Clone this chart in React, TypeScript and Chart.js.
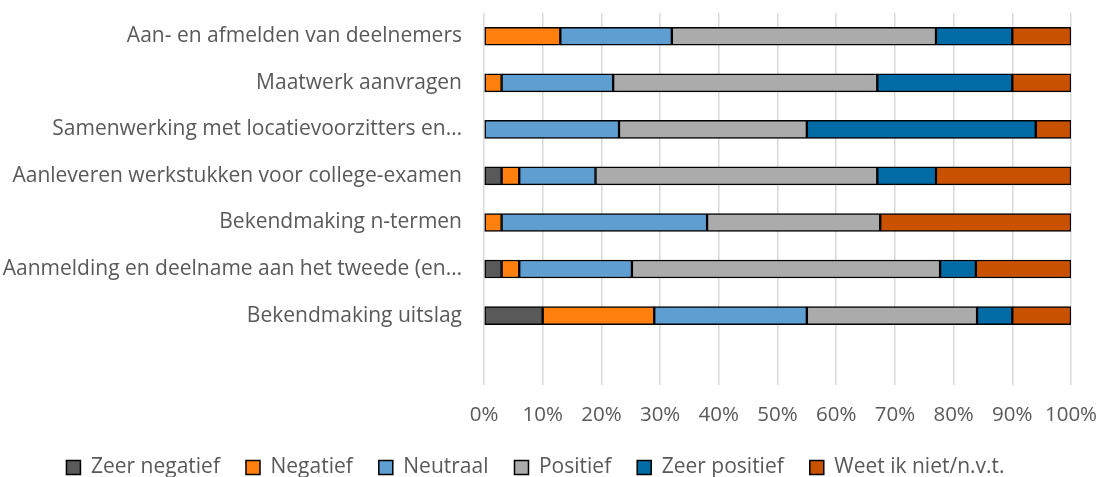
import React, { useEffect, useRef } from "react";
import { Chart, registerables } from "chart.js";

Chart.register(...registerables);

const categories = [
  "Aan- en afmelden van deelnemers",
  "Maatwerk aanvragen",
  "Samenwerking met locatievoorzitters en…",
  "Aanleveren werkstukken voor college-examen",
  "Bekendmaking n-termen",
  "Aanmelding en deelname aan het tweede (en…",
  "Bekendmaking uitslag",
  "",
];

const zeerNegatief = [0, 0, 0, 3, 0, 3, 10, null];
const negatief = [13, 3, 0, 3, 3, 3, 19, null];
const neutraal = [19, 19, 23, 13, 35, 19.2, 26, null];
const positief = [45, 45, 32, 48, 29.5, 52.5, 29, null];
const zeerPositief = [13, 23, 39, 10, 0, 6.1, 6, null];
const weetNiet = [10, 10, 6, 23, 32.5, 16.2, 10, null];

const seriesNames = ["Zeer negatief", "Negatief", "Neutraal", "Positief", "Zeer positief", "Weet ik niet/n.v.t."];
const seriesColors = ["#595959", "#FF800E", "#5F9ED1", "#ABABAB", "#006BA4", "#C85200"];
const xTicks = [0, 10, 20, 30, 40, 50, 60, 70, 80, 90, 100];

const FONT = "'Open Sans', sans-serif";
const TEXT = "#595959";

export default function App() {
  const ref = useRef<HTMLCanvasElement>(null);
  useEffect(() => {
    const values = [zeerNegatief, negatief, neutraal, positief, zeerPositief, weetNiet];
    const chart = new Chart(ref.current!, {
      type: "bar",
      data: {
        labels: categories,
        datasets: values.map((v, i) => ({
          label: seriesNames[i],
          data: v,
          backgroundColor: seriesColors[i],
          borderColor: "#000000",
          borderWidth: 1.5,
          borderSkipped: false,
          barThickness: 18,
        })),
      },
      options: {
        indexAxis: "y",
        animation: false,
        responsive: false,
        maintainAspectRatio: false,
        layout: { padding: { left: 0, right: 29, top: 13, bottom: -11 } },
        scales: {
          x: {
            stacked: true,
            min: 0,
            max: 100,
            afterBuildTicks: (scale: any) => {
              scale.ticks = xTicks.map((v) => ({ value: v }));
            },
            afterFit: (scale: any) => {
              scale.paddingLeft = 0;
              scale.paddingRight = 0;
              scale.height -= 13;
            },
            ticks: {
              callback: (v: any) => v + "%",
              color: TEXT,
              font: { family: FONT, size: 20.5 },
              padding: 17,
              maxRotation: 0,
            },
            grid: { color: "#D9D9D9", lineWidth: 1.5, drawTicks: false },
            border: { display: false },
          },
          y: {
            stacked: true,
            afterFit: (scale: any) => {
              scale.width = 484;
              scale.paddingTop = 0;
              scale.paddingBottom = 0;
            },
            ticks: {
              color: TEXT,
              font: { family: FONT, size: 21 },
              padding: 22,
              autoSkip: false,
            },
            grid: { display: false, drawTicks: false },
            border: { display: false },
          },
        },
        plugins: {
          legend: {
            position: "bottom",
            labels: {
              color: TEXT,
              font: { family: FONT, size: 21 },
              boxWidth: 14,
              boxHeight: 14,
              padding: 26,
            },
          },
          tooltip: { enabled: false },
        },
      },
    });
    return () => chart.destroy();
  }, []);
  return (
    <div style={{ position: "absolute", left: 0, top: 0, width: 1100, height: 477, background: "#fff" }}>
      <canvas ref={ref} width={1100} height={477} style={{ width: 1100, height: 477 }} />
    </div>
  );
}
